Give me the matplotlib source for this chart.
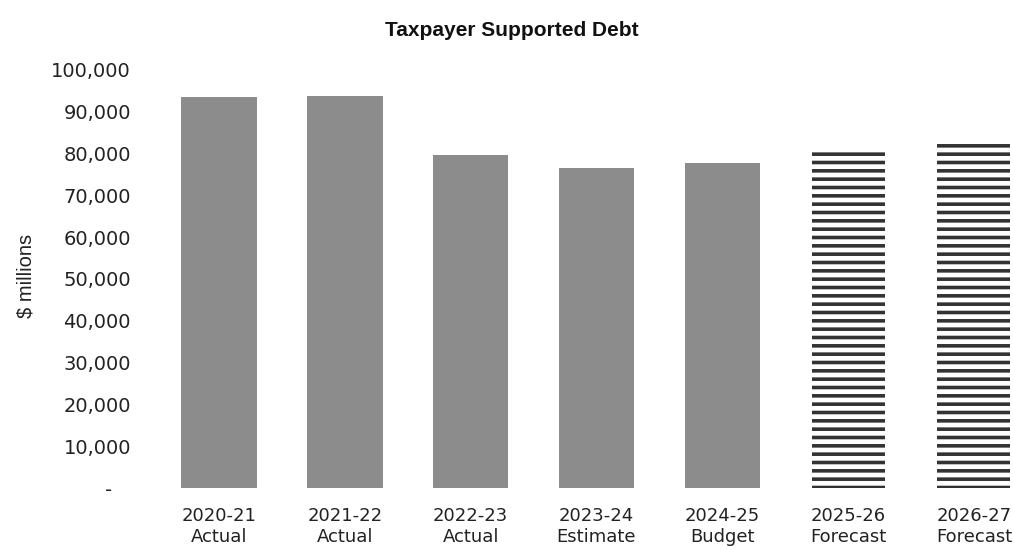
import matplotlib
matplotlib.use("Agg")
import matplotlib.pyplot as plt

# Taxpayer supported debt, $ millions
years = ["2020-21", "2021-22", "2022-23", "2023-24", "2024-25", "2025-26", "2026-27"]
stages = ["Actual", "Actual", "Actual", "Estimate", "Budget", "Forecast", "Forecast"]
debt = [93500, 93700, 79700, 76500, 77700, 80600, 82300]
forecast = [False, False, False, False, False, True, True]

yticks = [0, 10000, 20000, 30000, 40000, 50000, 60000, 70000, 80000, 90000, 100000]
ytick_labels = ["-   "] + [f"{v:,}" for v in yticks[1:]]

plt.rcParams["hatch.linewidth"] = 2.6

fig = plt.figure(figsize=(10.13, 5.5), dpi=100)
ax = fig.add_axes([0.154, 0.1127, 0.846, 0.7603])

x = list(range(len(years)))
for i, (v, fc) in enumerate(zip(debt, forecast)):
    if fc:
        ax.bar(i, v, width=0.58, color="white", edgecolor="#333333",
               hatch="--", linewidth=0)
    else:
        ax.bar(i, v, width=0.6, color="#8c8c8c", linewidth=0)

ax.set_xlim(-0.5, 6.31)
ax.set_ylim(0, 100000)
ax.set_yticks(yticks)
ax.set_yticklabels(ytick_labels, fontsize=14, color="#222222", family="DejaVu Sans")
ax.set_xticks(x)
ax.set_xticklabels([f"{y}\n{s}" for y, s in zip(years, stages)],
                   fontsize=13, color="#222222", family="DejaVu Sans")
ax.tick_params(axis="both", length=0)
ax.tick_params(axis="y", pad=18)
ax.tick_params(axis="x", pad=14)
for s in ax.spines.values():
    s.set_visible(False)

fig.text(0.016, 0.499, r"\$ millions", rotation=90, ha="left", va="center",
         fontsize=14.5, family="Liberation Sans", color="#222222")
fig.text(0.505, 0.945, "Taxpayer Supported Debt", ha="center", va="center",
         fontsize=15, fontweight="bold", family="Liberation Sans", color="#111111")

fig.savefig("out.png", dpi=100)
